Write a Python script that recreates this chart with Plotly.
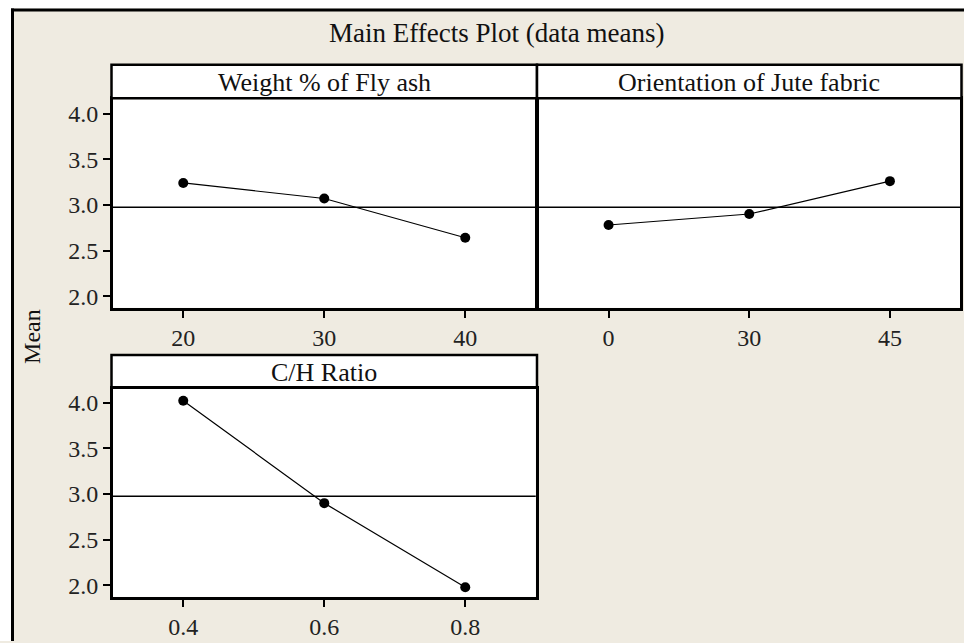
import plotly.graph_objects as go

# ---- data ----
fly_ash_levels = ["20", "30", "40"]
fly_ash_means = [3.24, 3.07, 2.64]

orientation_levels = ["0", "30", "45"]
orientation_means = [2.78, 2.90, 3.26]

ch_ratio_levels = ["0.4", "0.6", "0.8"]
ch_ratio_means = [4.02, 2.90, 1.98]

grand_mean = 2.975
y_tick_values = [2.0, 2.5, 3.0, 3.5, 4.0]
y_tick_labels = ["2.0", "2.5", "3.0", "3.5", "4.0"]

panel_titles = ["Weight % of Fly ash", "Orientation of Jute fabric", "C/H Ratio"]

# ---- layout helpers ----
W, H = 964, 643
def fx(px):
    return px / W
def fy(py):
    return 1 - py / H

FONT = "Liberation Serif, Times New Roman, serif"
BG = "#EFEBE1"
LW = 2.5

fig = go.Figure()

series = [
    (fly_ash_levels, fly_ash_means, "x", "y"),
    (orientation_levels, orientation_means, "x2", "y2"),
    (ch_ratio_levels, ch_ratio_means, "x3", "y3"),
]
for lv, mv, xa, ya in series:
    fig.add_trace(go.Scatter(
        x=lv, y=mv, xaxis=xa, yaxis=ya, mode="lines+markers",
        line=dict(color="black", width=1.2),
        marker=dict(color="black", size=10),
        showlegend=False, hoverinfo="skip",
    ))

L, M, R = 111.5, 537.0, 961.5
top_plot_top, top_plot_bot = 98.5, 310.0
bot_plot_top, bot_plot_bot = 388.5, 600.0
h = LW / 2

axis_common = dict(
    showline=True, linecolor="black", linewidth=LW, mirror=True,
    ticks="outside", ticklen=7, tickwidth=2, tickcolor="black",
    showgrid=False, zeroline=False,
    tickfont=dict(family=FONT, size=24, color="#222"),
)
x_common = dict(axis_common, type="category", range=[-0.5, 2.5])
y_common = dict(axis_common, range=[1.874, 4.154], tickvals=y_tick_values,
                ticktext=y_tick_labels)

fig.update_layout(
    width=W, height=H,
    margin=dict(l=0, r=0, t=0, b=0),
    paper_bgcolor=BG, plot_bgcolor="white",
    xaxis=dict(x_common, domain=[fx(L + h), fx(M - h)], anchor="y"),
    yaxis=dict(y_common, domain=[fy(top_plot_bot - h), fy(top_plot_top + h)], anchor="x"),
    xaxis2=dict(x_common, domain=[fx(M + h), fx(R - h)], anchor="y2"),
    yaxis2=dict(y_common, domain=[fy(top_plot_bot - h), fy(top_plot_top + h)], anchor="x2",
                showticklabels=False, ticks=""),
    xaxis3=dict(x_common, domain=[fx(L + h), fx(M - h)], anchor="y3"),
    yaxis3=dict(y_common, domain=[fy(bot_plot_bot - h), fy(bot_plot_top + h)], anchor="x3"),
)

shapes = []
# white margin outside the outer border, then the border itself
shapes.append(dict(type="rect", xref="paper", yref="paper", x0=0, x1=fx(11), y0=0, y1=1,
                   fillcolor="white", line=dict(width=0), layer="above"))
shapes.append(dict(type="rect", xref="paper", yref="paper", x0=0, x1=1, y0=fy(8.5), y1=1,
                   fillcolor="white", line=dict(width=0), layer="above"))
shapes.append(dict(type="line", xref="paper", yref="paper", x0=fx(12.5), x1=fx(12.5),
                   y0=0, y1=fy(8.5), line=dict(color="black", width=3)))
shapes.append(dict(type="line", xref="paper", yref="paper", x0=fx(11), x1=1,
                   y0=fy(10), y1=fy(10), line=dict(color="black", width=3)))

# panel headers
headers = [
    (L, M, 65, top_plot_top, panel_titles[0]),
    (M, R, 65, top_plot_top, panel_titles[1]),
    (L, M, 356, bot_plot_top, panel_titles[2]),
]
annotations = []
for x0, x1, y0, y1, t in headers:
    shapes.append(dict(type="rect", xref="paper", yref="paper",
                       x0=fx(x0), x1=fx(x1), y0=fy(y1), y1=fy(y0),
                       fillcolor="white", line=dict(color="black", width=LW)))
    annotations.append(dict(xref="paper", yref="paper", x=fx((x0 + x1) / 2),
                            y=fy((y0 + y1) / 2 + 1), text=t, showarrow=False,
                            xanchor="center", yanchor="middle",
                            font=dict(family=FONT, size=26, color="#111")))

# grand mean reference lines
for xa, ya in [("x", "y"), ("x2", "y2"), ("x3", "y3")]:
    shapes.append(dict(type="line", xref=f"{xa} domain", yref=ya, x0=0, x1=1,
                       y0=grand_mean, y1=grand_mean,
                       line=dict(color="black", width=1.6), layer="below"))

annotations.append(dict(xref="paper", yref="paper", x=fx(497), y=fy(33),
                        text="Main Effects Plot (data means)", showarrow=False,
                        xanchor="center", yanchor="middle",
                        font=dict(family=FONT, size=27, color="#111")))
annotations.append(dict(xref="paper", yref="paper", x=fx(32), y=fy(338),
                        text="Mean", textangle=-90, showarrow=False,
                        xanchor="center", yanchor="middle",
                        font=dict(family=FONT, size=24, color="#111")))

fig.update_layout(shapes=shapes, annotations=annotations)
fig.write_html(
    "out.html",
    config={"displayModeBar": False},
    post_script="document.body.style.margin='0';document.body.style.overflow='hidden';",
)
